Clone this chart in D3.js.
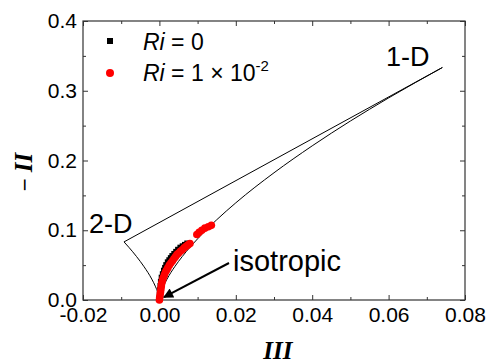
<!DOCTYPE html>
<html>
<head>
<meta charset="utf-8">
<script src="https://cdn.jsdelivr.net/npm/d3@7"></script>
<style>
  body { margin: 0; background: #fff; }
  svg text { font-family: "Liberation Sans", Arial, sans-serif; }
</style>
</head>
<body>
<div id="chart"></div>
<script>
// boundary of the anisotropy invariant map
const leftIII  = [-0.00926, -0.008, -0.006, -0.004, -0.002, -0.001, -0.0004, -0.0001, 0];
const leftII   = [0.0833, 0.0756, 0.0624, 0.0476, 0.0300, 0.0189, 0.0103, 0.0041, 0];
const rightIII = [0, 0.0001, 0.0005, 0.001, 0.002, 0.004, 0.006, 0.01, 0.015, 0.02, 0.03, 0.04, 0.05, 0.06, 0.07407];
const rightII  = [0, 0.0041, 0.0119, 0.0189, 0.0300, 0.0476, 0.0624, 0.0877, 0.1150, 0.1393, 0.1824, 0.2210, 0.2566, 0.2897, 0.3333];
const topIII   = [-0.00926, 0.07407];
const topII    = [0.0833, 0.3333];

// Ri = 0
const ri0III = [0.0000, 0.0001, 0.0002, 0.0003, 0.0004, 0.0006, 0.0009, 0.0012, 0.0015, 0.0018, 0.0022,
                0.0026, 0.0030, 0.0034, 0.0039, 0.0044, 0.0049, 0.0055, 0.0061, 0.0067, 0.0073];
const ri0II  = [0.002, 0.008, 0.014, 0.020, 0.026, 0.032, 0.037, 0.042, 0.046, 0.050, 0.054,
                0.057, 0.060, 0.063, 0.066, 0.069, 0.072, 0.075, 0.077, 0.079, 0.081];
// Ri = 1e-2
const ri1III = [0.0000, 0.0001, 0.0002, 0.0003, 0.0004, 0.0005, 0.0006, 0.0008, 0.0010, 0.0013, 0.0016, 0.0019,
                0.0022, 0.0026, 0.0030, 0.0034, 0.0038, 0.0042, 0.0046, 0.0050, 0.0055, 0.0060, 0.0065,
                0.0070, 0.0075, 0.0080, 0.0098, 0.0104, 0.0111, 0.0119, 0.0128, 0.0136];
const ri1II  = [0.000, 0.004, 0.008, 0.012, 0.016, 0.020, 0.024, 0.028, 0.032, 0.036, 0.040, 0.043,
                0.046, 0.050, 0.053, 0.056, 0.059, 0.062, 0.065, 0.067, 0.070, 0.072, 0.075,
                0.077, 0.079, 0.081, 0.094, 0.097, 0.100, 0.103, 0.105, 0.107];

const xTicks = [-0.02, 0.00, 0.02, 0.04, 0.06, 0.08];
const yTicks = [0.0, 0.1, 0.2, 0.3, 0.4];

const width = 492, height = 363;
const margin = { left: 83, top: 21, right: 27, bottom: 63 };
const innerW = width - margin.left - margin.right;
const innerH = height - margin.top - margin.bottom;

const svg = d3.select('#chart').append('svg')
  .attr('width', width)
  .attr('height', height);

const x = d3.scaleLinear().domain([-0.02, 0.08]).range([margin.left, margin.left + innerW]);
const y = d3.scaleLinear().domain([0, 0.4]).range([margin.top + innerH, margin.top]);

const axisColor = '#333';

// frame
svg.append('rect')
  .attr('x', x(-0.02)).attr('y', y(0.4))
  .attr('width', x(0.08) - x(-0.02)).attr('height', y(0) - y(0.4))
  .attr('fill', 'none').attr('stroke', axisColor).attr('stroke-width', 1.2);

// ticks (inward on all four sides)
const xMinor = d3.range(-0.01, 0.08, 0.02);
const yMinor = d3.range(0.05, 0.4, 0.1);
function addTicks(g) {
  g.selectAll('.tick line').attr('stroke', axisColor);
  g.select('.domain').remove();
}
svg.append('g').attr('transform', `translate(0,${y(0)})`)
  .call(d3.axisBottom(x).tickValues(xTicks).tickSizeInner(-5).tickSizeOuter(0).tickPadding(7))
  .call(addTicks)
  .call(g => g.selectAll('text').style('font-size', '21px').attr('fill', '#000')
    .text(d => d3.format('.2f')(d).replace('−', '-')));
svg.append('g').attr('transform', `translate(0,${y(0)})`)
  .call(d3.axisBottom(x).tickValues(xMinor).tickSizeInner(-3).tickSizeOuter(0).tickFormat(''))
  .call(addTicks);
svg.append('g').attr('transform', `translate(0,${y(0.4)})`)
  .call(d3.axisTop(x).tickValues(xTicks).tickSizeInner(-5).tickSizeOuter(0).tickFormat(''))
  .call(addTicks);
svg.append('g').attr('transform', `translate(0,${y(0.4)})`)
  .call(d3.axisTop(x).tickValues(xMinor).tickSizeInner(-3).tickSizeOuter(0).tickFormat(''))
  .call(addTicks);

svg.append('g').attr('transform', `translate(${x(-0.02)},0)`)
  .call(d3.axisLeft(y).tickValues(yTicks).tickSizeInner(-5).tickSizeOuter(0).tickPadding(6)
    .tickFormat(d3.format('.1f')))
  .call(addTicks)
  .call(g => g.selectAll('text').style('font-size', '21px').attr('fill', '#000'));
svg.append('g').attr('transform', `translate(${x(-0.02)},0)`)
  .call(d3.axisLeft(y).tickValues(yMinor).tickSizeInner(-3).tickSizeOuter(0).tickFormat(''))
  .call(addTicks);
svg.append('g').attr('transform', `translate(${x(0.08)},0)`)
  .call(d3.axisRight(y).tickValues(yTicks).tickSizeInner(-5).tickSizeOuter(0).tickFormat(''))
  .call(addTicks);
svg.append('g').attr('transform', `translate(${x(0.08)},0)`)
  .call(d3.axisRight(y).tickValues(yMinor).tickSizeInner(-3).tickSizeOuter(0).tickFormat(''))
  .call(addTicks);

// boundary
const line = d3.line().x(d => x(d[0])).y(d => y(d[1])).curve(d3.curveMonotoneX);
[[leftIII, leftII], [rightIII, rightII], [topIII, topII]].forEach(([a, b]) => {
  svg.append('path')
    .datum(a.map((v, i) => [v, b[i]]))
    .attr('d', line)
    .attr('fill', 'none')
    .attr('stroke', '#000')
    .attr('stroke-width', 1);
});

// data
svg.selectAll('rect.ri0')
  .data(ri0III.map((v, i) => [v, ri0II[i]]))
  .enter().append('rect')
  .attr('class', 'ri0')
  .attr('x', d => x(d[0]) - 3)
  .attr('y', d => y(d[1]) - 3)
  .attr('width', 6).attr('height', 6)
  .attr('fill', '#000');

svg.selectAll('circle.ri1')
  .data(ri1III.map((v, i) => [v, ri1II[i]]))
  .enter().append('circle')
  .attr('class', 'ri1')
  .attr('cx', d => x(d[0]))
  .attr('cy', d => y(d[1]))
  .attr('r', 3.8)
  .attr('fill', '#f00');

// annotations
svg.append('text').attr('x', 89).attr('y', 233).style('font-size', '27px').text('2-D');
svg.append('text').attr('x', 386).attr('y', 66).style('font-size', '27px').text('1-D');
svg.append('text').attr('x', 233).attr('y', 271).style('font-size', '29px').text('isotropic');

svg.append('defs').append('marker')
  .attr('id', 'arrow').attr('viewBox', '0 0 10 10')
  .attr('refX', 9).attr('refY', 5)
  .attr('markerWidth', 15).attr('markerHeight', 10)
  .attr('markerUnits', 'userSpaceOnUse')
  .attr('orient', 'auto')
  .append('path').attr('d', 'M0,0 L10,5 L0,10 z').attr('fill', '#000');
svg.append('line')
  .attr('x1', 229).attr('y1', 263)
  .attr('x2', x(0.0012)).attr('y2', y(0.004))
  .attr('stroke', '#000').attr('stroke-width', 2)
  .attr('marker-end', 'url(#arrow)');

// legend
svg.append('rect').attr('x', 107).attr('y', 38).attr('width', 6).attr('height', 6).attr('fill', '#000');
svg.append('circle').attr('cx', 110).attr('cy', 73).attr('r', 4).attr('fill', '#f00');
const l1 = svg.append('text').attr('x', 143).attr('y', 50).style('font-size', '23px');
l1.append('tspan').style('font-style', 'italic').text('Ri');
l1.append('tspan').text(' = 0');
const l2 = svg.append('text').attr('x', 143).attr('y', 81).style('font-size', '23px');
l2.append('tspan').style('font-style', 'italic').text('Ri');
l2.append('tspan').text(' = 1 × 10');
l2.append('tspan').attr('dy', -10).style('font-size', '15px').text('-2');

// axis titles
svg.append('text')
  .attr('x', x(0.031)).attr('y', 359)
  .attr('text-anchor', 'middle')
  .style('font-family', '"Liberation Serif", "Times New Roman", serif')
  .style('font-style', 'italic').style('font-weight', 'bold')
  .style('font-size', '25px')
  .text('III');
const yt = svg.append('text')
  .attr('transform', 'translate(32,172) rotate(-90)')
  .attr('text-anchor', 'middle')
  .style('font-size', '22px');
yt.append('tspan').text('− ');
yt.append('tspan')
  .style('font-family', '"Liberation Serif", "Times New Roman", serif')
  .style('font-style', 'italic').style('font-weight', 'bold')
  .style('font-size', '25px')
  .text('II');
</script>
</body>
</html>
